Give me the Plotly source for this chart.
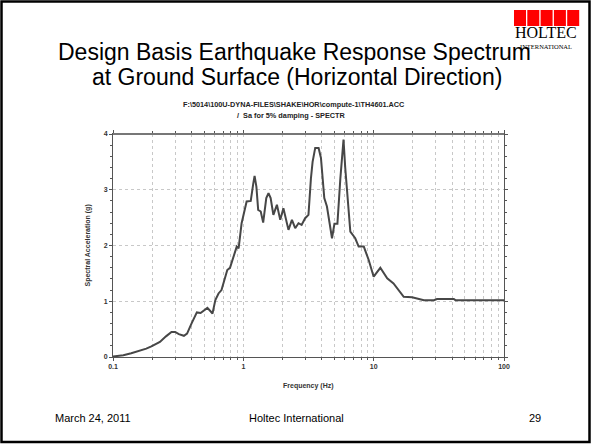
import plotly.graph_objects as go

# ---- data ----
freq_hz = [0.1, 0.12, 0.138, 0.16, 0.18, 0.197, 0.229, 0.255, 0.281, 0.30, 0.32, 0.35, 0.37,
           0.40, 0.44, 0.47, 0.50, 0.53, 0.56, 0.58, 0.61, 0.645, 0.68, 0.72, 0.753, 0.79,
           0.84, 0.89, 0.92, 0.97, 1.06, 1.14, 1.19, 1.22, 1.26, 1.30, 1.36, 1.42, 1.50,
           1.56, 1.62, 1.70, 1.81, 1.92, 2.03, 2.12, 2.22, 2.36, 2.50, 2.65, 2.80, 2.98,
           3.16, 3.30, 3.40, 3.56, 3.78, 3.94, 4.05, 4.18, 4.38, 4.79, 5.0, 5.27, 5.55,
           5.71, 5.87, 6.05, 6.24, 6.62, 7.22, 7.67, 8.4, 9.16, 10.0, 11.25, 12.7, 14.2,
           17.0, 19.7, 24.3, 29.0, 30.6, 41.2, 42.4, 100.0]
sa_g = [0.01, 0.03, 0.066, 0.11, 0.15, 0.19, 0.27, 0.37, 0.45, 0.45, 0.41, 0.38, 0.42,
        0.60, 0.80, 0.79, 0.83, 0.88, 0.82, 0.78, 1.02, 1.14, 1.20, 1.38, 1.56, 1.60,
        1.80, 1.98, 1.95, 2.40, 2.79, 2.80, 3.10, 3.25, 3.05, 2.64, 2.61, 2.41, 2.85,
        2.94, 2.85, 2.55, 2.73, 2.46, 2.67, 2.45, 2.28, 2.46, 2.31, 2.40, 2.37, 2.49,
        2.55, 3.20, 3.50, 3.75, 3.75, 3.57, 3.20, 2.85, 2.70, 2.13, 2.39, 2.39, 3.20,
        3.51, 3.90, 3.40, 2.97, 2.25, 2.13, 1.98, 1.98, 1.74, 1.44, 1.60, 1.41, 1.32,
        1.08, 1.07, 1.02, 1.02, 1.04, 1.04, 1.02, 1.02]

x_major_ticks = [0.1, 1, 10, 100]
x_major_labels = ["0.1", "1", "10", "100"]
x_minor_ticks = [m * d for d in (0.1, 1, 10) for m in range(2, 10)]
y_ticks = [0, 1, 2, 3, 4]

title_line1 = "Design Basis Earthquake Response Spectrum"
title_line2 = "at Ground Surface (Horizontal Direction)"
chart_head1 = "F:\\5014\\100U-DYNA-FILES\\SHAKE\\HOR\\compute-1\\TH4601.ACC"
chart_head2 = "/  Sa for 5% damping - SPECTR"
x_title = "Frequency (Hz)"
y_title = "Spectral Acceleration (g)"
footer_left = "March 24, 2011"
footer_mid = "Holtec International"
footer_right = "29"

# ---- geometry (pixels) ----
W, H = 592, 445
L, R, T, B = 113, 504, 134, 357


def px(x):
    return (x - L) / (R - L)


def py(y):
    return (B - y) / (B - T)


fig = go.Figure()
fig.add_trace(go.Scatter(x=freq_hz, y=sa_g, mode="lines",
                         line=dict(color="#474747", width=2), showlegend=False,
                         hoverinfo="skip"))

axis_font = dict(family="Liberation Sans, Arial", size=7, color="#333", weight="bold")
fig.update_xaxes(type="log", range=[-1, 2], showline=True, linecolor="#555", linewidth=1,
                 mirror="allticks", ticks="outside", ticklen=3, tickcolor="#555",
                 tickmode="array", tickvals=x_major_ticks, ticktext=x_major_labels,
                 tickfont=axis_font, showgrid=True, gridcolor="#c8c8c8", griddash="dot",
                 gridwidth=1, zeroline=False,
                 minor=dict(tickmode="array", tickvals=x_minor_ticks, ticks="outside",
                            ticklen=2, tickcolor="#555", showgrid=True,
                            gridcolor="#c8c8c8", griddash="dot", gridwidth=1))
fig.update_yaxes(range=[0, 4], showline=True, linecolor="#555", linewidth=1,
                 mirror="allticks", ticks="outside", ticklen=3, tickcolor="#555",
                 tickvals=y_ticks, tickfont=axis_font, showgrid=True, gridcolor="#c8c8c8",
                 griddash="dot", gridwidth=1, zeroline=False,
                 minor=dict(dtick=0.2, ticks="outside", ticklen=2, tickcolor="#555",
                            showgrid=False))

shapes = []
# slide border
shapes.append(dict(type="rect", xref="paper", yref="paper", x0=px(1.5), x1=px(589.5),
                   y0=py(1.5), y1=py(442), line=dict(color="black", width=2.5),
                   fillcolor="rgba(0,0,0,0)", layer="above"))
# thicker top axis band
shapes.append(dict(type="line", xref="paper", yref="paper", x0=0, x1=1, y0=1, y1=1,
                   line=dict(color="#777", width=2)))
# logo squares
for i in range(5):
    x0 = 514 + i * 13.3
    shapes.append(dict(type="rect", xref="paper", yref="paper", x0=px(x0), x1=px(x0 + 12),
                       y0=py(26), y1=py(10), line=dict(width=0), fillcolor="#ff0000"))

ann = []


def text(s, x, y, size, family="Liberation Sans, Arial", color="black", xanchor="center",
         yanchor="middle", angle=0, weight="normal"):
    ann.append(dict(text=s, x=px(x), y=py(y), xref="paper", yref="paper", showarrow=False,
                    font=dict(family=family, size=size, color=color, weight=weight),
                    xanchor=xanchor, yanchor=yanchor, textangle=angle))


text(title_line1, 294, 52, 23)
text(title_line2, 297, 77, 23)
text("HOLTEC", 546, 32, 16, family="Liberation Serif, Times New Roman")
text("INTERNATIONAL", 546, 46, 6.5, family="Liberation Serif, Times New Roman")
text(chart_head1, 294, 104.5, 7.3, color="#222", weight="bold")
text(chart_head2, 291, 115.5, 7.3, color="#222", weight="bold")
text(x_title, 308, 386, 7, color="#333", weight="bold")
text(y_title, 87, 245.5, 7, color="#333", weight="bold", angle=-90)
text(footer_left, 53, 418, 11, xanchor="left")
text(footer_mid, 296, 418, 11)
text(footer_right, 543, 418, 11, xanchor="right")

fig.update_layout(width=W, height=H, margin=dict(l=L, r=W - R, t=T, b=H - B),
                  paper_bgcolor="white", plot_bgcolor="white", shapes=shapes,
                  annotations=ann, showlegend=False)

fig.write_html("out.html", config={"displayModeBar": False},
               post_script="document.body.style.margin='0';")
